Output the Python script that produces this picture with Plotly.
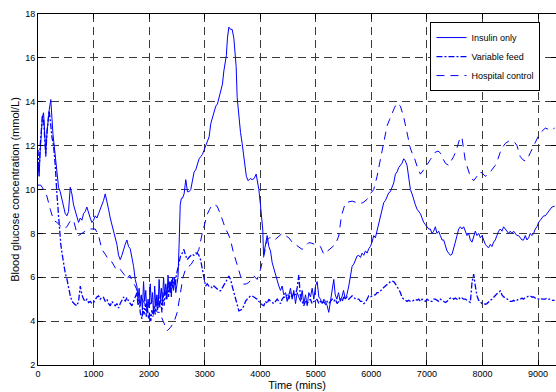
import plotly.graph_objects as go

# ---------------- data ----------------
insulin_t = [0, 20, 40, 60, 80, 100, 120, 140, 160, 180, 200, 230, 250, 270, 300, 340, 370, 400, 430, 460,
             490, 520, 550, 580, 610, 640, 670, 700, 730, 760, 790, 820, 850, 880, 910, 940, 970, 1000, 1030, 1060,
             1090, 1120, 1150, 1180, 1210, 1240, 1270, 1300, 1330, 1360, 1390, 1420, 1450, 1480, 1510, 1540, 1570, 1600, 1630, 1660,
             1690, 1720, 1750, 1780, 1800, 1820, 1840, 1860, 1880, 1900, 1920, 1940, 1960, 1980, 2000, 2020, 2040, 2060, 2080, 2100,
             2120, 2140, 2160, 2180, 2200, 2220, 2240, 2260, 2280, 2300, 2320, 2340, 2360, 2380, 2400, 2420, 2440, 2460, 2480, 2500,
             2520, 2540, 2560, 2580, 2600, 2630, 2660, 2690, 2720, 2750, 2780, 2810, 2840, 2870, 2900, 2930, 2960, 2990, 3020, 3050,
             3080, 3110, 3140, 3170, 3200, 3230, 3260, 3290, 3320, 3345, 3370, 3390, 3410, 3435, 3465, 3495, 3525, 3545, 3567, 3585,
             3615, 3645, 3675, 3700, 3723, 3750, 3783, 3820, 3855, 3890, 3927, 3950, 3975, 4000, 4023, 4045, 4060, 4090, 4125, 4155,
             4185, 4215, 4245, 4275, 4305, 4335, 4365, 4395, 4425, 4455, 4485, 4515, 4545, 4575, 4605, 4635, 4665, 4695, 4725, 4755,
             4785, 4815, 4845, 4875, 4905, 4935, 4965, 4995, 5025, 5055, 5085, 5115, 5145, 5175, 5205, 5234, 5260, 5290, 5324, 5350,
             5380, 5410, 5440, 5470, 5500, 5530, 5560, 5594, 5624, 5654, 5684, 5714, 5744, 5774, 5804, 5834, 5864, 5894, 5924, 5953,
             5983, 6013, 6043, 6073, 6103, 6133, 6163, 6193, 6223, 6253, 6283, 6313, 6343, 6373, 6403, 6433, 6463, 6493, 6523, 6553,
             6583, 6613, 6643, 6673, 6703, 6733, 6763, 6793, 6823, 6853, 6883, 6913, 6943, 6973, 7003, 7032, 7062, 7092, 7122, 7152,
             7182, 7212, 7242, 7272, 7302, 7332, 7362, 7392, 7422, 7452, 7482, 7512, 7542, 7572, 7602, 7632, 7662, 7692, 7722, 7752,
             7782, 7812, 7842, 7872, 7902, 7932, 7962, 7992, 8022, 8052, 8082, 8112, 8142, 8171, 8201, 8231, 8261, 8291, 8321, 8351,
             8381, 8411, 8441, 8471, 8501, 8531, 8561, 8591, 8621, 8651, 8681, 8711, 8741, 8771, 8801, 8831, 8861, 8891, 8921, 8951,
             8981, 9011, 9041, 9071, 9101, 9131, 9160, 9190, 9220, 9250, 9300]
insulin_v = [11.2, 10.6, 11.8, 12.6, 13.3, 13.5, 12.4, 11.7, 12.5, 13.2, 13.6, 14.1, 13.0, 12.5, 11.8, 10.9, 10.1, 9.9, 9.6, 9.2,
             8.9, 8.8, 9.0, 10.1, 9.8, 9.3, 9.0, 8.7, 8.5, 8.7, 8.6, 8.9, 9.0, 9.2, 8.9, 8.7, 8.5, 8.6, 8.8, 8.7,
             8.9, 9.1, 9.3, 9.5, 9.8, 9.5, 9.1, 8.7, 8.4, 8.1, 7.8, 7.5, 7.0, 6.8, 7.0, 7.3, 7.5, 7.7, 7.4, 7.3,
             6.9, 6.5, 5.9, 5.6, 5.0, 5.5, 4.7, 5.2, 4.5, 5.8, 4.9, 5.4, 4.4, 5.0, 4.6, 5.7, 4.8, 5.3, 4.3, 5.6,
             4.7, 5.2, 4.6, 5.9, 5.0, 5.5, 4.8, 6.0, 5.2, 5.7, 5.0, 6.1, 5.3, 5.8, 5.1, 6.0, 5.4, 5.9, 5.3, 5.8,
             6.0, 7.5, 9.3, 9.6, 9.6, 9.8, 10.45, 9.9, 9.9, 10.0, 10.4, 10.8, 10.9, 11.2, 11.4, 11.5, 11.6, 11.8, 12.0, 12.2,
             12.4, 13.0, 13.3, 13.6, 13.8, 13.9, 14.2, 14.4, 14.8, 15.4, 15.9, 16.1, 16.9, 17.4, 17.3, 17.3, 16.9, 16.3, 15.6, 14.2,
             13.3, 12.6, 12.1, 11.5, 11.06, 10.6, 10.4, 10.5, 10.45, 10.5, 10.7, 10.4, 10.0, 9.4, 8.9, 8.2, 7.0, 7.5, 7.9, 7.4,
             7.2, 6.67, 6.4, 6.06, 5.8, 5.6, 5.4, 5.6, 5.2, 5.3, 4.9, 5.2, 5.5, 5.0, 5.4, 4.8, 5.3, 5.1, 4.9, 5.4,
             4.8, 5.2, 4.7, 5.3, 5.1, 5.5, 5.0, 5.6, 5.8, 5.1, 5.0, 4.8, 5.0, 4.9, 4.7, 4.4, 4.8, 5.2, 5.9, 5.2,
             5.0, 5.3, 4.9, 5.1, 5.4, 5.0, 5.2, 5.6, 6.0, 6.5, 6.6, 6.8, 6.97, 7.0, 6.9, 7.1, 7.0, 7.2, 7.1, 7.3,
             7.4, 7.6, 7.9, 7.8, 8.1, 8.5, 8.7, 9.0, 9.4, 9.5, 9.7, 9.85, 9.9, 10.15, 10.3, 10.7, 10.8, 11.0, 11.1, 11.2,
             11.4, 11.3, 11.1, 10.45, 10.0, 9.8, 9.5, 9.3, 9.1, 9.0, 8.9, 8.7, 8.5, 8.4, 8.3, 8.2, 8.2, 8.0, 8.1, 8.3,
             8.0, 8.1, 7.9, 7.7, 7.7, 7.4, 7.2, 7.1, 7.0, 7.05, 7.4, 7.6, 7.9, 8.2, 8.3, 8.2, 8.3, 8.1, 7.9, 8.0,
             7.7, 7.6, 7.9, 8.1, 7.9, 8.0, 7.8, 7.9, 7.7, 7.5, 7.4, 7.35, 7.5, 7.4, 7.6, 7.7, 7.9, 8.1, 8.2, 8.1,
             8.3, 8.2, 8.1, 8.0, 8.1, 8.0, 8.1, 8.0, 7.9, 7.9, 7.8, 7.7, 7.7, 7.9, 7.7, 7.8, 8.0, 7.9, 8.0, 8.2,
             8.3, 8.5, 8.6, 8.7, 8.8, 8.8, 8.9, 9.0, 9.1, 9.2, 9.24]

feed_t = [0, 20, 40, 60, 80, 100, 120, 140, 160, 180, 200, 220, 250, 280, 312, 340, 372, 390, 410, 432,
          462, 490, 522, 550, 581, 611, 640, 670, 701, 730, 761, 790, 821, 850, 880, 911, 941, 971, 1001, 1030,
          1060, 1091, 1120, 1150, 1181, 1210, 1240, 1270, 1301, 1330, 1360, 1390, 1420, 1451, 1480, 1511, 1540, 1570, 1601, 1630,
          1660, 1691, 1720, 1750, 1781, 1800, 1820, 1840, 1871, 1890, 1910, 1930, 1950, 1970, 1990, 2010, 2030, 2050, 2070, 2090,
          2110, 2130, 2150, 2170, 2190, 2210, 2230, 2250, 2270, 2290, 2310, 2330, 2350, 2370, 2390, 2410, 2430, 2450, 2470, 2490,
          2510, 2540, 2566, 2596, 2626, 2656, 2686, 2716, 2746, 2776, 2806, 2836, 2866, 2896, 2926, 2956, 2986, 3016, 3046, 3076,
          3106, 3136, 3166, 3196, 3226, 3256, 3286, 3316, 3346, 3376, 3405, 3435, 3465, 3495, 3525, 3555, 3585, 3615, 3645, 3675,
          3705, 3735, 3765, 3795, 3825, 3855, 3885, 3915, 3945, 3975, 4005, 4035, 4065, 4095, 4125, 4155, 4185, 4215, 4245, 4275,
          4305, 4335, 4365, 4395, 4425, 4455, 4485, 4515, 4545, 4575, 4605, 4635, 4665, 4694, 4720, 4754, 4784, 4814, 4844, 4874,
          4904, 4934, 4964, 4994, 5024, 5054, 5084, 5114, 5144, 5174, 5204, 5234, 5264, 5294, 5324, 5354, 5384, 5414, 5444, 5474,
          5504, 5534, 5564, 5594, 5624, 5654, 5684, 5714, 5744, 5774, 5804, 5834, 5864, 5893, 5923, 5953, 5983, 6013, 6043, 6073,
          6103, 6133, 6163, 6193, 6223, 6253, 6283, 6313, 6343, 6373, 6403, 6433, 6463, 6493, 6523, 6553, 6583, 6613, 6643, 6673,
          6703, 6733, 6763, 6793, 6823, 6853, 6883, 6913, 6943, 6973, 7003, 7032, 7062, 7092, 7122, 7152, 7182, 7212, 7242, 7272,
          7302, 7332, 7362, 7392, 7422, 7452, 7482, 7512, 7542, 7572, 7602, 7632, 7662, 7692, 7722, 7752, 7782, 7812, 7842, 7872,
          7902, 7932, 7962, 7992, 8022, 8052, 8082, 8112, 8142, 8171, 8201, 8231, 8261, 8291, 8321, 8351, 8381, 8411, 8441, 8471,
          8501, 8531, 8561, 8591, 8621, 8651, 8681, 8711, 8741, 8771, 8801, 8831, 8861, 8891, 8921, 8951, 8981, 9011, 9041, 9071,
          9101, 9131, 9161, 9191, 9221, 9260, 9300]
feed_v = [11.8, 10.8, 12.0, 12.8, 13.4, 13.2, 12.0, 11.5, 12.6, 13.3, 13.6, 13.2, 12.4, 12.0, 11.06, 9.8, 8.6, 8.0, 7.5, 7.1,
          6.5, 6.2, 5.9, 5.5, 5.15, 4.9, 4.8, 4.75, 4.7, 4.9, 5.6, 5.2, 5.0, 4.9, 5.0, 4.85, 4.9, 4.8, 4.85, 5.0,
          5.1, 5.15, 5.0, 5.1, 5.08, 4.9, 5.0, 4.8, 4.7, 4.9, 4.8, 4.7, 4.8, 4.6, 4.8, 5.0, 5.1, 4.9, 5.08, 4.9,
          4.8, 4.7, 4.9, 5.1, 5.3, 4.7, 5.0, 4.4, 4.1, 4.6, 4.3, 4.8, 4.2, 4.6, 4.1, 4.4, 4.0, 4.5, 4.2, 4.7,
          4.3, 4.9, 4.5, 5.2, 4.6, 5.0, 4.4, 5.3, 4.7, 5.4, 5.0, 5.6, 5.1, 5.8, 5.3, 5.9, 5.5, 6.0, 5.6, 6.1,
          6.3, 6.6, 6.97, 7.1, 7.27, 7.0, 6.8, 6.9, 7.0, 7.05, 7.0, 7.1, 7.1, 7.0, 6.8, 6.4, 6.0, 5.6, 5.7, 5.6,
          5.6, 5.5, 5.6, 5.53, 5.5, 5.4, 5.38, 5.5, 5.6, 5.76, 5.9, 6.06, 5.9, 5.6, 5.3, 5.0, 4.7, 4.47, 4.5, 4.55,
          4.7, 4.9, 5.0, 5.1, 5.15, 5.15, 5.1, 5.08, 5.0, 4.9, 4.8, 4.75, 4.7, 4.9, 4.8, 5.0, 4.9, 4.85, 4.8, 4.9,
          5.0, 4.9, 4.8, 5.0, 5.1, 5.08, 5.2, 5.0, 5.3, 5.1, 5.3, 5.2, 5.5, 6.1, 5.2, 4.9, 4.7, 4.9, 4.8, 4.9,
          5.0, 4.8, 4.9, 4.9, 5.0, 4.8, 4.9, 4.8, 4.9, 4.77, 4.9, 4.8, 4.9, 5.0, 4.9, 5.0, 4.8, 4.9, 5.0, 4.9,
          5.1, 5.0, 5.1, 5.0, 5.1, 5.15, 5.1, 5.0, 5.0, 5.0, 4.9, 4.9, 4.8, 4.85, 5.0, 5.15, 5.1, 5.15, 5.2, 5.2,
          5.3, 5.3, 5.4, 5.45, 5.53, 5.6, 5.7, 5.76, 5.8, 5.83, 5.8, 5.7, 5.6, 5.45, 5.3, 5.08, 5.0, 4.95, 4.9, 4.95,
          4.9, 4.9, 4.95, 5.0, 4.95, 5.0, 4.9, 5.0, 4.95, 4.9, 5.0, 4.95, 4.9, 4.9, 5.0, 5.0, 4.95, 4.9, 5.0, 4.95,
          4.9, 4.85, 4.9, 5.0, 5.05, 5.08, 5.0, 5.05, 5.0, 5.08, 5.0, 5.05, 5.0, 5.0, 4.95, 4.9, 4.85, 5.76, 6.14, 5.6,
          5.15, 4.95, 4.85, 4.8, 4.8, 4.77, 4.8, 4.9, 4.95, 5.0, 5.1, 5.15, 5.25, 5.3, 5.38, 5.2, 5.1, 5.08, 5.0, 4.95,
          4.9, 4.9, 4.95, 4.9, 4.95, 5.0, 5.0, 5.05, 5.0, 5.08, 5.1, 5.15, 5.15, 5.1, 5.1, 5.05, 5.05, 5.0, 5.05, 5.0,
          5.0, 5.0, 5.05, 5.0, 5.0, 4.95, 4.95]

hospital_t = [0, 50, 100, 160, 220, 280, 340, 400, 460, 520, 580, 640, 700, 730, 790, 850, 910, 970, 1030, 1090,
              1150, 1210, 1270, 1330, 1380, 1420, 1480, 1530, 1570, 1600, 1650, 1700, 1750, 1800, 1850, 1900, 1950, 2000, 2050, 2100,
              2150, 2200, 2236, 2280, 2326, 2380, 2446, 2506, 2566, 2610, 2656, 2710, 2760, 2806, 2850, 2896, 2956, 3000, 3045, 3090,
              3135, 3180, 3225, 3286, 3330, 3376, 3420, 3466, 3510, 3555, 3600, 3645, 3705, 3750, 3795, 3840, 3885, 3945, 4005, 4065,
              4125, 4170, 4215, 4260, 4305, 4350, 4395, 4455, 4515, 4575, 4634, 4700, 4754, 4810, 4874, 4930, 4994, 5040, 5084, 5144,
              5190, 5234, 5290, 5354, 5414, 5462, 5534, 5594, 5654, 5714, 5773, 5850, 5923, 5980, 6043, 6103, 6150, 6193, 6240, 6283,
              6330, 6373, 6420, 6463, 6523, 6583, 6620, 6661, 6700, 6733, 6780, 6823, 6883, 6943, 7000, 7062, 7110, 7152, 7200, 7242,
              7290, 7332, 7390, 7440, 7482, 7530, 7572, 7602, 7632, 7662, 7692, 7722, 7752, 7782, 7842, 7900, 7940, 7992, 8052, 8110,
              8170, 8231, 8280, 8321, 8370, 8411, 8470, 8531, 8580, 8621, 8681, 8730, 8771, 8820, 8861, 8910, 8951, 9000, 9041, 9090,
              9131, 9180, 9221, 9260, 9300]
hospital_v = [10.2, 10.2, 10.0, 9.7, 9.1, 8.6, 8.5, 8.33, 8.2, 8.3, 8.56, 8.6, 8.0, 7.9, 8.0, 8.1, 8.2, 8.2, 8.2, 7.9,
              7.27, 7.05, 6.8, 6.7, 6.5, 6.3, 6.36, 6.2, 6.06, 5.9, 6.1, 5.8, 5.6, 5.3, 5.1, 4.9, 4.6, 4.7, 4.9, 4.6,
              4.4, 4.4, 4.1, 3.8, 3.56, 3.7, 3.94, 4.4, 5.45, 6.0, 6.36, 6.5, 6.6, 6.8, 7.0, 7.27, 8.0, 8.5, 8.86, 9.1,
              9.3, 9.3, 9.24, 8.86, 8.5, 8.2, 8.0, 7.7, 7.2, 6.8, 6.4, 6.06, 5.68, 5.7, 5.76, 5.9, 6.06, 5.9, 6.36, 6.97,
              7.7, 7.8, 7.8, 7.7, 7.8, 7.9, 8.0, 7.9, 7.8, 7.6, 7.5, 7.35, 7.27, 7.4, 7.58, 7.55, 7.5, 7.45, 7.4, 7.05,
              7.15, 7.27, 7.4, 7.5, 7.88, 8.8, 9.4, 9.45, 9.47, 9.42, 9.35, 9.4, 9.55, 9.8, 10.0, 10.6, 11.2, 11.9, 12.4, 12.9,
              13.2, 13.5, 13.75, 13.94, 13.8, 13.3, 12.8, 12.27, 11.9, 11.67, 11.4, 11.06, 10.7, 10.9, 11.1, 11.36, 11.55, 11.7, 11.75, 11.67,
              11.4, 11.2, 11.1, 11.3, 11.5, 11.8, 12.1, 12.4, 12.35, 11.67, 11.3, 11.06, 10.8, 10.6, 10.4, 10.6, 10.8, 10.76, 10.6, 10.7,
              10.9, 11.1, 11.4, 11.7, 11.95, 12.1, 12.2, 12.2, 12.15, 12.0, 11.5, 11.35, 11.3, 11.45, 11.67, 11.95, 12.2, 12.4, 12.58, 12.7,
              12.8, 12.75, 12.7, 12.75, 12.8]

series_names = ["Insulin only", "Variable feed", "Hospital control"]
x_ticks = [0, 1000, 2000, 3000, 4000, 5000, 6000, 7000, 8000, 9000]
y_ticks = [2, 4, 6, 8, 10, 12, 14, 16, 18]

# ---------------- figure ----------------
BLUE = "#0000ff"
FONT = "Liberation Sans, Arial, Helvetica, sans-serif"

fig = go.Figure()
fig.add_trace(go.Scatter(x=insulin_t, y=insulin_v, mode="lines", name=series_names[0],
                         line=dict(color=BLUE, width=1)))
fig.add_trace(go.Scatter(x=feed_t, y=feed_v, mode="lines", name=series_names[1],
                         line=dict(color=BLUE, width=1.3, dash="6px,2px,2px,2px")))
fig.add_trace(go.Scatter(x=hospital_t, y=hospital_v, mode="lines", name=series_names[2],
                         line=dict(color=BLUE, width=1, dash="8px,6px")))

axis_common = dict(
    showline=True, linecolor="black", linewidth=1, mirror="allticks",
    ticks="inside", ticklen=5, tickcolor="black", tickwidth=1,
    showgrid=True, gridcolor="#3a3a3a", gridwidth=1, griddash="8px,5px",
    zeroline=False, tickfont=dict(family=FONT, size=9, color="black"),
)

fig.update_xaxes(range=[0, 9324], tickvals=x_ticks, ticktext=[str(v) for v in x_ticks],
                 title=dict(text="Time (mins)", font=dict(family=FONT, size=11, color="black"), standoff=1),
                 automargin=False, **axis_common)
fig.update_yaxes(range=[2, 18], tickvals=y_ticks, ticktext=[str(v) for v in y_ticks],
                 title=dict(text="Blood glucose concentration (mmol/L)",
                            font=dict(family=FONT, size=11, color="black"), standoff=3),
                 automargin=False, **axis_common)

fig.update_layout(
    width=556, height=392,
    margin=dict(l=38, r=0, t=14, b=27, pad=0),
    paper_bgcolor="white", plot_bgcolor="white",
    font=dict(family=FONT, size=10, color="black"),
    showlegend=True,
    legend=dict(x=0.97, y=0.977, xanchor="right", yanchor="top",
                bgcolor="white", bordercolor="black", borderwidth=1,
                font=dict(family=FONT, size=9, color="black"),
                tracegroupgap=0, itemwidth=30),
)

fig.write_html("out.html",
               config={"displayModeBar": False, "staticPlot": True},
               post_script="document.body.style.margin='0px';document.body.style.padding='0px';")
